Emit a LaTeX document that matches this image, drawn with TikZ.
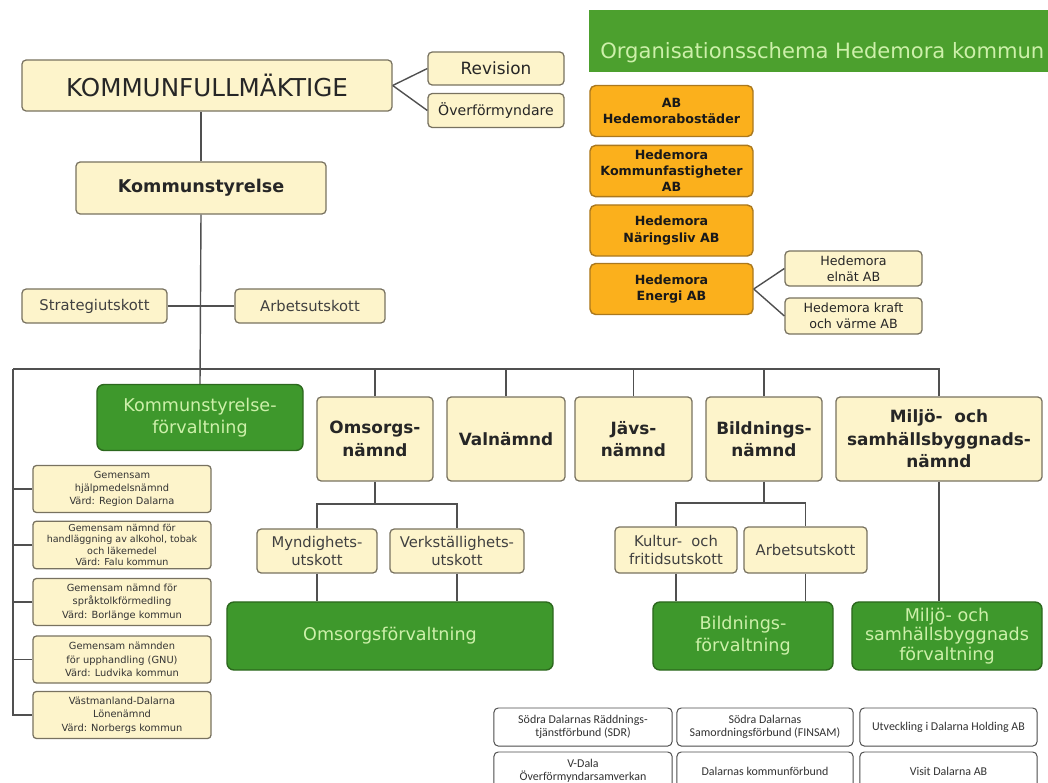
\documentclass[tikz,border=0pt]{standalone}
\usepackage{fontspec}
\setmainfont{DejaVu Sans}
\newfontfamily\calfont{Carlito}
\definecolor{cream}{RGB}{253,244,203}
\definecolor{creamline}{RGB}{120,114,96}
\definecolor{leaf}{RGB}{62,152,44}
\definecolor{leafline}{RGB}{44,104,30}
\definecolor{leaftext}{RGB}{205,240,170}
\definecolor{band}{RGB}{76,160,46}
\definecolor{amber}{RGB}{251,176,28}
\definecolor{amberline}{RGB}{170,120,30}
\definecolor{wirecol}{RGB}{80,80,80}

\begin{document}
\begin{tikzpicture}[x = 0.025cm, y = -0.025cm,
  pale/.style = {draw = creamline, fill = cream, rounded corners = 3pt, line width = 0.9pt, align = center, text = black!85, inner sep = 2pt},
  hdbox/.style = {pale, font = \bfseries\fontsize{12}{16}\selectfont, minimum height = 2.1cm},
  utbox/.style = {pale, font = \fontsize{10.5}{13}\selectfont, text = black!75},
  gembox/.style = {pale, font = \fontsize{7}{9.5}\selectfont, text = black!80, rounded corners = 2.5pt, minimum width = 4.45cm, minimum height = 1.175cm},
  leafbox/.style = {draw = leafline, fill = leaf, rounded corners = 5pt, line width = 1pt, text = leaftext, align = center, font = \fontsize{12.5}{15.5}\selectfont, minimum height = 1.7cm},
  amberbox/.style = {draw = amberline, fill = amber, rounded corners = 4pt, line width = 1pt, align = center, font = \bfseries\fontsize{9}{11.5}\selectfont, minimum width = 4.075cm, minimum height = 1.275cm, text = black!90},
  dalbox/.style = {draw = black!70, fill = white, rounded corners = 3pt, line width = 0.7pt, align = center, font = \calfont\fontsize{8.5}{9.5}\selectfont, text = black!80, minimum height = 0.95cm},
  wire/.style = {draw = wirecol, line width = 1pt}]
\useasboundingbox (0, 0) rectangle (1048, 783);

\node[fill = band, minimum width = 11.475cm, minimum height = 1.55cm, anchor = north west, inner sep = 0] (band) at (589, 10) {};
\node[anchor = west, inner sep = 0, text = leaftext, font = \fontsize{15}{18}\selectfont] (title) at (600, 53) {Organisationsschema Hedemora kommun};

\node[pale, font = \fontsize{17.5}{20}\selectfont, minimum width = 9.25cm, minimum height = 1.275cm] (kf) at (207, 85.5) {KOMMUNFULLMÄKTIGE};
\node[pale, font = \fontsize{12}{14}\selectfont, minimum width = 3.4cm, minimum height = 0.825cm] (rev) at (496, 68.5) {Revision};
\node[pale, font = \fontsize{10}{12}\selectfont, minimum width = 3.4cm, minimum height = 0.85cm] (ofm) at (496, 110.5) {Överförmyndare};
\node[pale, font = \bfseries\fontsize{12.5}{15}\selectfont, minimum width = 6.25cm, minimum height = 1.3cm] (ks) at (201, 188) {Kommunstyrelse};
\node[utbox, minimum width = 3.625cm, minimum height = 0.85cm] (strat) at (94.5, 306) {Strategiutskott};
\node[utbox, minimum width = 3.75cm, minimum height = 0.85cm] (au) at (310, 306) {Arbetsutskott};

\node[leafbox, minimum width = 5.15cm, minimum height = 1.65cm] (ksf) at (200, 417.5) {Kommunstyrelse-\\förvaltning};
\node[hdbox, minimum width = 2.9cm] (omn) at (375, 439) {Omsorgs-\\nämnd};
\node[hdbox, minimum width = 2.95cm] (valn) at (506, 439) {Valnämnd};
\node[hdbox, minimum width = 2.925cm] (javn) at (633.5, 439) {Jävs-\\nämnd};
\node[hdbox, minimum width = 2.9cm] (bin) at (764, 439) {Bildnings-\\nämnd};
\node[hdbox, minimum width = 5.15cm] (miln) at (939, 439) {Miljö-~ och\\samhällsbyggnads-\\nämnd};

\node[gembox] (gem1) at (122, 489) {Gemensam\\hjälpmedelsnämnd\\Värd: Region Dalarna};
\node[gembox, font = \fontsize{6.8}{8.2}\selectfont] (gem2) at (122, 545) {Gemensam nämnd för\\handläggning av alkohol, tobak\\och läkemedel\\Värd: Falu kommun};
\node[gembox] (gem3) at (122, 602) {Gemensam nämnd för\\språktolkförmedling\\Värd: Borlänge kommun};
\node[gembox] (gem4) at (122, 659.5) {Gemensam nämnden\\för upphandling (GNU)\\Värd: Ludvika kommun};
\node[gembox] (gem5) at (122, 715) {Västmanland-Dalarna\\Lönenämnd\\Värd: Norbergs kommun};

\node[utbox, minimum width = 3cm, minimum height = 1.1cm] (myn) at (317, 551) {Myndighets-\\utskott};
\node[utbox, minimum width = 3.35cm, minimum height = 1.1cm] (verk) at (457, 551) {Verkställighets-\\utskott};
\node[leafbox, minimum width = 8.15cm] (omf) at (390, 636) {Omsorgsförvaltning};
\node[utbox, minimum width = 3.05cm, minimum height = 1.15cm] (kul) at (676, 550) {Kultur-~ och\\fritidsutskott};
\node[utbox, minimum width = 3.075cm, minimum height = 1.15cm] (bau) at (805.5, 550) {Arbetsutskott};
\node[leafbox, minimum width = 4.5cm] (bif) at (743, 636) {Bildnings-\\förvaltning};
\node[leafbox, minimum width = 4.75cm, font = \fontsize{12.5}{14}\selectfont] (mif) at (947, 636) {Miljö- och\\samhällsbyggnads\\förvaltning};

\node[amberbox] (ab1) at (671.5, 111) {AB\\Hedemorabostäder};
\node[amberbox] (ab2) at (671.5, 171) {Hedemora\\Kommunfastigheter\\AB};
\node[amberbox] (ab3) at (671.5, 230.5) {Hedemora\\Näringsliv AB};
\node[amberbox] (ab4) at (671.5, 289) {Hedemora\\Energi AB};
\node[pale, font = \fontsize{9}{11.5}\selectfont, minimum width = 3.425cm, minimum height = 0.875cm] (eln) at (853.5, 268.5) {Hedemora\\elnät AB};
\node[pale, font = \fontsize{9}{11.5}\selectfont, minimum width = 3.425cm, minimum height = 0.9cm] (kvab) at (853.5, 316) {Hedemora kraft\\och värme AB};

\node[dalbox, minimum width = 4.45cm] (sdr) at (583, 727) {Södra Dalarnas Räddnings-\\tjänstförbund (SDR)};
\node[dalbox, minimum width = 4.4cm] (fin) at (765, 727) {Södra Dalarnas\\Samordningsförbund (FINSAM)};
\node[dalbox, minimum width = 4.425cm] (udh) at (948.5, 727) {Utveckling i Dalarna Holding AB};
\node[dalbox, minimum width = 4.45cm] (vdala) at (583, 771) {V-Dala\\Överförmyndarsamverkan};
\node[dalbox, minimum width = 4.4cm] (dkf) at (765, 771) {Dalarnas kommunförbund};
\node[dalbox, minimum width = 4.425cm] (visit) at (948.5, 771) {Visit Dalarna AB};

\draw[wire] (kf.east) -- (rev.west);
\draw[wire] (kf.east) -- (ofm.west);
\draw[wire] (ks.north) -- (ks.north |- kf.south);
\draw[wire] (ks.south) -- (ksf.north);
\draw[wire] (strat.east) -- (au.west);
\coordinate (busl) at (13, 369);
\coordinate (busr) at (940, 369);
\draw[wire] (busl) -- (busr);
\draw[wire] (busl) |- (gem5.west);
\foreach \nm in {gem1, gem2, gem3, gem4}
  \draw[wire] (\nm.west) -- (\nm.west -| busl);
\foreach \nm in {omn, valn, javn, bin, miln}
  \draw[wire] (\nm.north) -- (\nm.north |- busl);
\coordinate (omfork) at (375, 504);
\draw[wire] (omn.south) -- (omfork);
\draw[wire] (myn.north) |- (omfork) -| (verk.north);
\draw[wire] (myn.south) -- (myn.south |- omf.north);
\draw[wire] (verk.south) -- (verk.south |- omf.north);
\coordinate (bifork) at (764, 503);
\draw[wire] (bin.south) -- (bifork);
\draw[wire] (kul.north) |- (bifork) -| (bau.north);
\draw[wire] (kul.south) -- (kul.south |- bif.north);
\draw[wire] (bau.south) -- (bau.south |- bif.north);
\draw[wire] (miln.south) -- (miln.south |- mif.north);
\draw[wire] (ab4.east) -- (eln.west);
\draw[wire] (ab4.east) -- (kvab.west);
\end{tikzpicture}
\end{document}
